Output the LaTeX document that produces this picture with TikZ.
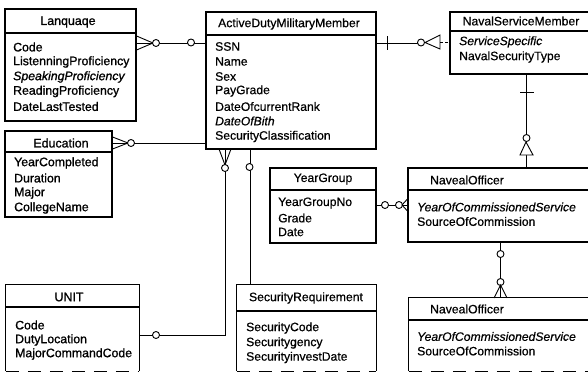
\documentclass[tikz,border=0pt]{standalone}
\usepackage{fontspec}
\setmainfont{Liberation Sans}
\newfontfamily\semibold[FakeBold=1.1]{Liberation Sans}
\newfontfamily\semibolditalic[FakeBold=1.1,ItalicFont={Liberation Sans Italic},ItalicFeatures={FakeBold=1.1}]{Liberation Sans}
\newfontfamily\lightbold[FakeBold=0.6,ItalicFont={Liberation Sans Italic},ItalicFeatures={FakeBold=0.6}]{Liberation Sans}
\tikzset{
 erbox/.style={draw=black,line width=1.1pt,inner sep=0pt,fill=none},
 erhead/.style={font=\fontsize{12.2}{14}\selectfont\lightbold,anchor=center,inner sep=0pt},
 erheadb/.style={font=\fontsize{12.4}{14}\selectfont\semibold,anchor=center,inner sep=0pt},
 attr/.style={font=\fontsize{12.15}{14}\selectfont\lightbold,anchor=west,inner sep=0pt},
 battr/.style={font=\fontsize{12.3}{14}\selectfont\semibold,anchor=west,inner sep=0pt},
 link/.style={line width=0.9pt,black},
 ring/.style={circle,draw=black,fill=white,line width=0.9pt,minimum size=7pt,inner sep=0pt},
}
% name, x1, y1, x2, y2, header y
\newcommand{\erclosed}[6]{%
 \node[erbox,minimum width=#4pt-#2pt,minimum height=#5pt-#3pt] (#1) at ({(#2+#4)/2},{(#3+#5)/2}) {};
 \draw[line width=1.1pt] (#1.west |- 0,#6) -- (#1.east |- 0,#6);
}
% open at the bottom edge (broken line) 
\newcommand{\eropenb}[6]{%
 \node[minimum width=#4pt-#2pt,minimum height=#5pt-#3pt,inner sep=0pt] (#1) at ({(#2+#4)/2},{(#3+#5)/2}) {};
 \draw[line width=1.1pt] (#1.south west) -- (#1.north west) -- (#1.north east) -- (#1.south east);
 \draw[line width=1.1pt,dash pattern=on 13pt off 9pt] (#1.south west) -- (#1.south east);
 \draw[line width=1.1pt] (#1.west |- 0,#6) -- (#1.east |- 0,#6);
}
\begin{document}
\begin{tikzpicture}[x=1pt,y=-1pt]
\useasboundingbox (0,0) rectangle (588,372);
\clip (0,0) rectangle (588,372);

\erclosed{lang}{5}{9}{136}{121}{33}
\erclosed{edu}{5}{131}{112}{217}{152}
\eropenb{unit}{6}{285}{139}{371}{307}
\erclosed{adm}{206}{12}{376}{149}{35}
\erclosed{nsm}{450}{12}{592}{74}{31}
\erclosed{yg}{270}{168}{376}{243}{190}
\erclosed{no}{408}{168}{592}{242}{190}
\eropenb{nb}{409}{298}{592}{371}{320}
\eropenb{sec}{237}{285}{376}{371}{311}

\node[erheadb] (t1) at (68,22) {Lanquaqe};
\node[erheadb] (t2) at (61,143) {Education};
\node[erheadb] (t3) at (69,297) {UNIT};
\node[erhead] (t4) at (289,24) {ActiveDutyMilitaryMember};
\node[erhead] (t5) at (521,21) {NavalServiceMember};
\node[erhead] (t6) at (323,179) {YearGroup};
\node[erhead] (t7) at (467,180) {NavealOfficer};
\node[erhead] (t8) at (467,309) {NavealOfficer};
\node[erhead] (t9) at (306,298) {SecurityRequirement};

\node[battr] (a1) at (13,47) {Code};
\node[battr] (a2) at (13,62) {ListenningProficiency};
\node[battr] (a3) at (13,77) {\semibolditalic\itshape SpeakingProficiency};
\node[battr] (a4) at (13,91.5) {ReadingProficiency};
\node[battr] (a5) at (13,106.5) {DateLastTested};

\node[battr] (b1) at (14,163) {YearCompleted};
\node[battr] (b2) at (14,178) {Duration};
\node[battr] (b3) at (14,193) {Major};
\node[battr] (b4) at (14,208) {CollegeName};

\node[battr] (c1) at (15,325) {Code};
\node[battr] (c2) at (15,340) {DutyLocation};
\node[battr] (c3) at (15,354) {MajorCommandCode};

\node[attr] (d1) at (215,46.5) {SSN};
\node[attr] (d2) at (215,61.5) {Name};
\node[attr] (d3) at (215,76.5) {Sex};
\node[attr] (d4) at (215,91) {PayGrade};
\node[attr] (d5) at (215,106.5) {DateOfcurrentRank};
\node[attr] (d6) at (215,121) {\itshape DateOfBith};
\node[attr] (d7) at (215,136.5) {SecurityClassification};

\node[attr] (e1) at (459,42) {\itshape ServiceSpecific};
\node[attr] (e2) at (459,57) {NavalSecurityType};

\node[attr] (f1) at (278,203) {YearGroupNo};
\node[attr] (f2) at (278,218) {Grade};
\node[attr] (f3) at (278,232) {Date};

\node[attr] (g1) at (417,207) {\itshape YearOfCommissionedService};
\node[attr] (g2) at (417,221.5) {SourceOfCommission};

\node[attr] (h1) at (417,336.5) {\itshape YearOfCommissionedService};
\node[attr] (h2) at (417,351) {SourceOfCommission};

\node[attr] (s1) at (246,328) {SecurityCode};
\node[attr] (s2) at (246,343) {Securitygency};
\node[attr] (s3) at (246,357.5) {SecurityinvestDate};

% Language -- ActiveDutyMilitaryMember
\draw[link] (lang.east |- 0,43) -- (adm.west |- 0,43);
\draw[link] (lang.east |- 0,36) -- (153,43) -- (lang.east |- 0,50);
\node[ring] (r1) at (156,43) {};
\node[ring] (r2) at (191,42.5) {};

% Education -- ActiveDutyMilitaryMember
\draw[link] (edu.east |- 0,143) -- (adm.west |- 0,143);
\draw[link] (edu.east |- 0,137) -- (128,143) -- (edu.east |- 0,149);
\node[ring] (r3) at (131,143) {};

% ActiveDutyMilitaryMember -- UNIT
\coordinate (bend) at (225,335);
\draw[link] (adm.south -| bend) -- (bend) -- (unit.east |- bend);
\draw[link] (219,149) -- (225,165) -- (231,149);
\node[ring] (r4) at (225,168) {};
\node[ring] (r5) at (156,335) {};

% ActiveDutyMilitaryMember -- SecurityRequirement
\coordinate (sx) at (250,200);
\draw[link] (adm.south -| sx) -- (sec.north -| sx);
\node[ring] (r6) at (249.5,167) {};

% ActiveDutyMilitaryMember -- NavalServiceMember
\draw[link] (adm.east |- 0,43) -- (418,43);
\draw[link] (387,36) -- (387,50);
\node[ring] (r7) at (421,42.5) {};
\coordinate (tri1) at (425,42.5);
\draw[link] (440,35) -- (tri1) -- (440,49) -- cycle;
\draw[link,densely dashed] (440,42.5) -- (nsm.west |- 0,42.5);

% NavalServiceMember -- NavealOfficer
\coordinate (nx) at (526,100);
\draw[link] (nsm.south -| nx) -- (no.north -| nx);
\draw[link] (520,92) -- (534,92);
\node[ring] (r8) at (526.5,138) {};
\draw[link,fill=white] (526,142) -- (520,155) -- (533,155) -- cycle;

% YearGroup -- NavealOfficer
\draw[link] (yg.east |- 0,205) -- (no.west |- 0,205);
\node[ring] (r9) at (385,205) {};
\node[ring] (r10) at (399,205) {};
\draw[link] (no.west |- 0,199) -- (402,205) -- (no.west |- 0,211);

% NavealOfficer -- NavealOfficer
\coordinate (ox) at (500.5,270);
\draw[link] (no.south -| ox) -- (nb.north -| ox);
\node[ring] (r11) at (500.5,254) {};
\node[ring] (r12) at (500.5,282) {};
\draw[link] (494,298) -- (500.5,285) -- (507,298);
\end{tikzpicture}
\end{document}
